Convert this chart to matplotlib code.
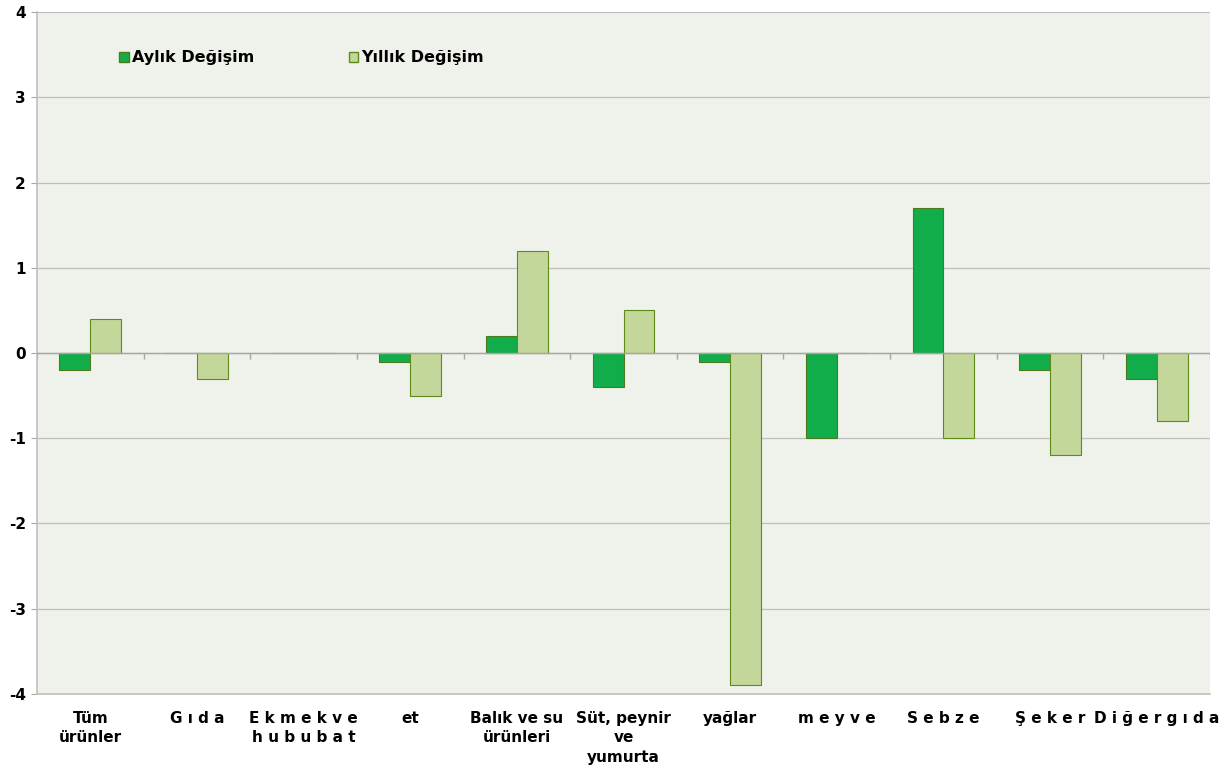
import numpy as np
import matplotlib.pyplot as plt
from matplotlib.patches import Patch

# --- datos ---
kategoriler = ["Tüm\nürünler", "G ı d a", "E k m e k v e\nh u b u b a t", "et",
               "Balık ve su\nürünleri", "Süt, peynir\nve\nyumurta", "yağlar",
               "m e y v e", "S e b z e", "Ş e k e r", "D i ğ e r g ı d a"]
aylik = [-0.2, 0.0, 0.0, -0.1, 0.2, -0.4, -0.1, -1.0, 1.7, -0.2, -0.3]
yillik = [0.4, -0.3, 0.0, -0.5, 1.2, 0.5, -3.9, 0.0, -1.0, -1.2, -0.8]
y_ticks = [-4, -3, -2, -1, 0, 1, 2, 3, 4]
seri_adlari = ["Aylık Değişim", "Yıllık Değişim"]

fig = plt.figure(figsize=(12.31, 7.71), dpi=100)
ax = fig.add_axes([0.030, 0.0999, 0.953, 0.8845])
ax.set_facecolor("#EFF2EA")

x = np.arange(len(kategoriler))
w = 0.29
ax.bar(x - w / 2, aylik, w, color="#12AD4B", edgecolor="#4E7A1E", linewidth=0.8, zorder=3)
ax.bar(x + w / 2, yillik, w, color="#C4D79B", edgecolor="#5E8A1A", linewidth=0.8, zorder=3)

ax.set_xlim(-0.5, len(kategoriler) - 0.5)
ax.set_ylim(-4, 4)
ax.set_yticks(y_ticks)
ax.set_yticklabels([str(v) for v in y_ticks], fontsize=11, fontweight="bold")
ax.yaxis.grid(True, color="#BFBFBF", linewidth=0.9, zorder=0)
ax.axhline(0, color="#A6A6A6", linewidth=1.0, zorder=4)

# tick marks on the zero line between categories
sinir = np.arange(len(kategoriler) + 1) - 0.5
ax.vlines(sinir, -0.07, 0, color="#A6A6A6", linewidth=1.0, zorder=2)

ax.set_xticks(x)
ax.set_xticklabels(kategoriler, fontsize=11, fontweight="bold", linespacing=1.4)
ax.tick_params(axis="x", length=0, pad=12)
ax.tick_params(axis="y", length=4, color="#A6A6A6", pad=4)

for s in ["top", "right"]:
    ax.spines[s].set_visible(False)
for s in ["left", "bottom"]:
    ax.spines[s].set_color("#BFBFBF")
    ax.spines[s].set_linewidth(1.2)

handles = [Patch(facecolor="#12AD4B", edgecolor="#4E7A1E"),
           Patch(facecolor="#C4D79B", edgecolor="#5E8A1A")]
ax.legend(handles, seri_adlari, loc="upper left", bbox_to_anchor=(0.058, 0.965), ncol=2,
          frameon=False, prop={"weight": "bold", "size": 11.5}, handlelength=0.6,
          handleheight=0.6, handletextpad=0.2, columnspacing=5.9)

fig.savefig("out.png", dpi=100)
